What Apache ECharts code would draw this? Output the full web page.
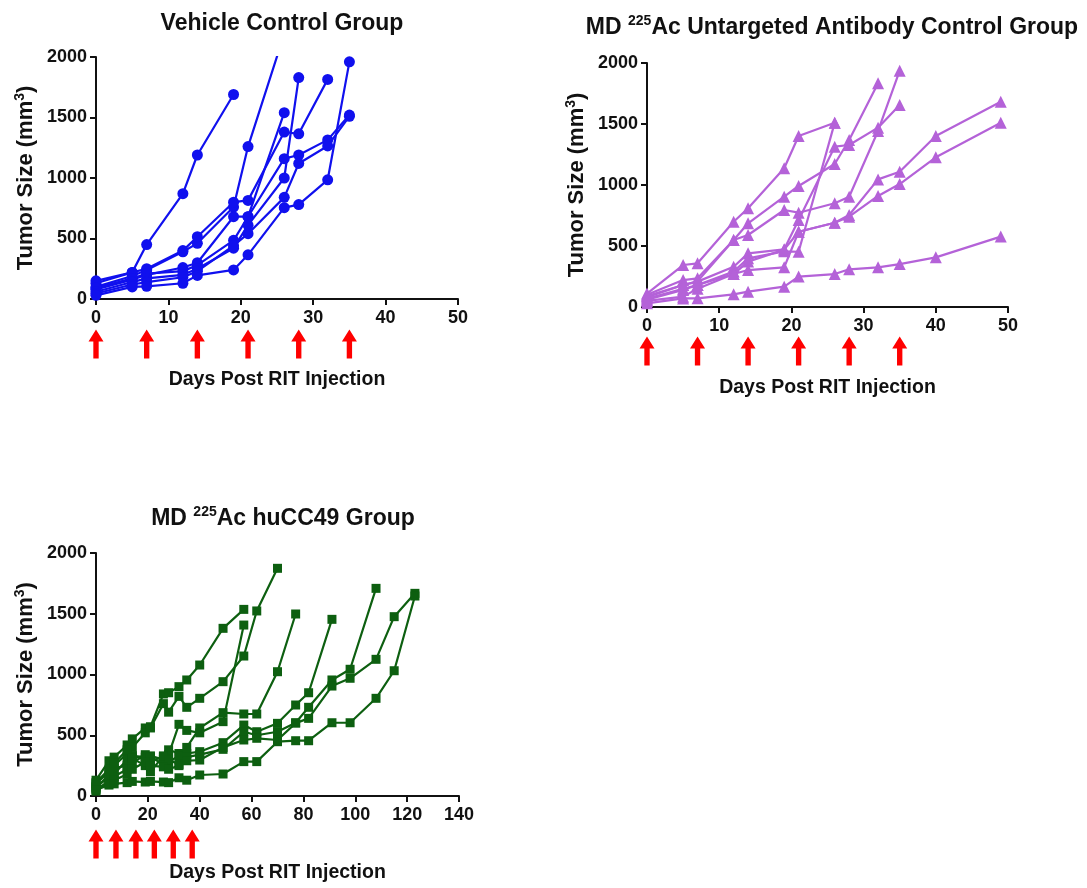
<!DOCTYPE html>
<html>
<head>
<meta charset="utf-8">
<script src="https://cdn.jsdelivr.net/npm/echarts@6/dist/echarts.min.js"></script>
<style>
  html, body { margin: 0; padding: 0; background: #fff; }
  #chart { width: 1087px; height: 888px; }
</style>
</head>
<body>
<div id="chart"></div>
<script>
// tumour size per mouse: [day, mm3]
const vehicleMice = [
  [[0,130],[5,220],[7,450],[12,870],[14,1190],[19,1690]],
  [[0,100],[5,190],[7,240],[12,390],[14,460],[19,760],[21,1260],[26,2190]],
  [[0,150],[5,220],[7,250],[12,400],[14,515],[19,800],[21,815],[26,1380],[28,1365],[32,1815]],
  [[0,80],[5,160],[7,200],[12,260],[14,300],[19,680],[21,680],[26,1540]],
  [[0,90],[5,170],[7,210],[12,230],[14,280],[19,485],[21,680],[26,1160],[28,1190],[32,1315],[35,1520]],
  [[0,60],[5,140],[7,170],[12,200],[14,250],[19,420],[21,610],[26,1000],[28,1830]],
  [[0,45],[5,120],[7,140],[12,180],[14,230],[19,440],[21,540],[26,840],[28,1120],[32,1265],[35,1510]],
  [[0,30],[5,100],[7,105],[12,130],[14,195],[19,240],[21,365],[26,755],[28,780],[32,985],[35,1960]]
];
const untargetedMice = [
  [[0,30],[5,70],[7,71],[12,104],[14,126],[19,167],[21,249],[26,270],[28,309],[32,325],[35,352],[40,407],[49,577]],
  [[0,110],[5,344],[7,358],[12,699],[14,809],[19,1137],[21,1402],[26,1511]],
  [[0,100],[5,221],[7,235],[12,549],[14,686],[19,904],[21,992],[26,1172],[28,1369],[32,1833]],
  [[0,80],[5,180],[7,208],[12,330],[14,440],[19,473],[21,713],[26,1314],[28,1328],[32,1470],[35,1656]],
  [[0,60],[5,139],[7,180],[12,290],[14,399],[19,456],[21,453],[26,1511]],
  [[0,90],[5,180],[7,210],[12,549],[14,590],[19,795],[21,773],[26,850],[28,904],[32,1443],[35,1937]],
  [[0,70],[5,150],[7,180],[12,270],[14,372],[19,470],[21,617],[26,691],[28,754],[32,1046],[35,1109],[40,1402],[49,1683]],
  [[0,50],[5,85],[7,150],[12,270],[14,303],[19,325],[21,617],[26,691],[28,740],[32,910],[35,1008],[40,1227],[49,1511]]
];
const huCC49Mice = [
  [[0,130],[5,290],[7,320],[12,420],[14,470],[19,560],[21,570],[26,840],[28,850],[32,900],[35,955],[40,1078],[49,1380],[57,1536]],
  [[0,100],[5,200],[7,250],[12,350],[14,400],[19,520],[21,560],[26,760],[28,690],[32,820],[35,730],[40,804],[49,941],[57,1152],[62,1523],[70,1874]],
  [[0,80],[5,150],[7,180],[12,300],[14,330],[19,300],[21,330],[26,300],[28,340],[32,590],[35,540],[40,520],[49,612],[57,1407]],
  [[0,60],[5,180],[7,230],[12,250],[14,330],[19,320],[21,290],[26,320],[28,380],[32,350],[35,400],[40,560],[49,686],[57,675],[62,675],[70,1023],[77,1498]],
  [[0,40],[5,130],[7,160],[12,220],[14,270],[19,340],[21,320],[26,260],[28,280],[32,330],[35,350],[40,365],[49,439],[57,584],[62,529],[70,598],[77,749],[82,850],[91,1454]],
  [[0,110],[5,220],[7,270],[12,380],[14,310],[19,250],[21,200],[26,330],[28,300],[32,260],[35,320],[40,340],[49,384],[57,529],[62,500],[70,529],[77,603],[82,730],[91,955],[98,1043],[108,1709]],
  [[0,70],[5,100],[7,130],[12,180],[14,220],[19,280],[21,250],[26,240],[28,220],[32,250],[35,290],[40,296],[49,400],[57,461],[62,475],[70,461],[77,600],[82,639],[91,905],[98,969],[108,1125],[115,1476],[123,1668]],
  [[0,50],[5,90],[7,100],[12,110],[14,120],[19,115],[21,120],[26,115],[28,110],[32,150],[35,130],[40,173],[49,181],[57,283],[62,283],[70,447],[77,455],[82,455],[91,603],[98,603],[108,804],[115,1031],[123,1646]]
];
// red injection arrows under each x axis (days)
const weeklyDoses = [0, 7, 14, 21, 28, 35];
const huCC49Doses = [0, 7.7, 15.4, 22.5, 29.8, 37.1];

const font = 'Liberation Sans, Arial, Helvetica, sans-serif';
const ink = '#111';
const arrowPath = 'path://M7,0 L14,12 L9.5,12 L9.5,29 L4.5,29 L4.5,12 L0,12 Z';

// box: [left, top, width, height] of each plot
const panels = [
  { box: [96, 57, 362, 242], arrowY: 344, xMax: 50, xStep: 10, mice: vehicleMice, color: '#1010ee', symbol: 'circle', size: 11, doses: weeklyDoses, nameGap: 71 },
  { box: [647, 63, 361, 244], arrowY: 351, xMax: 50, xStep: 10, mice: untargetedMice, color: '#b462d8', symbol: 'triangle', size: 12, doses: weeklyDoses, nameGap: 71 },
  { box: [96, 553, 363, 243], arrowY: 844, xMax: 140, xStep: 20, mice: huCC49Mice, color: '#0d5f10', symbol: 'rect', size: 9, doses: huCC49Doses, nameGap: 67 }
];
const titles = [
  { text: '{b|Vehicle Control Group}', x: 277, y: 5 },
  { text: '{b|MD }{s|225}{b|Ac Untargeted Antibody Control Group}', x: 827, y: 9 },
  { text: '{b|MD }{s|225}{b|Ac huCC49 Group}', x: 278, y: 500 }
];

const richTitle = {
  b: { fontSize: 23, fontWeight: 'bold', fontFamily: font, color: ink, lineHeight: 28 },
  s: { fontSize: 14, fontWeight: 'bold', fontFamily: font, color: ink, verticalAlign: 'top', lineHeight: 14 }
};
const richName = {
  a: { fontSize: 22, fontWeight: 'bold', fontFamily: font, color: ink, lineHeight: 26 },
  s: { fontSize: 14, fontWeight: 'bold', fontFamily: font, color: ink, verticalAlign: 'top', lineHeight: 12 }
};

const grid = [], xAxis = [], yAxis = [], series = [];
panels.forEach((p, i) => {
  const [l, t, w, h] = p.box;
  grid.push({ left: l, top: t, width: w, height: h });
  grid.push({ left: l, top: p.arrowY - 10, width: w, height: 20 });
  const axisLine = { show: true, lineStyle: { color: ink, width: 2 } };
  const axisTick = { show: true, length: 6, lineStyle: { width: 2, color: ink } };
  xAxis.push({
    type: 'value', gridIndex: 2 * i, min: 0, max: p.xMax, interval: p.xStep,
    splitLine: { show: false }, axisLine, axisTick,
    axisLabel: { fontSize: 18, fontWeight: 'bold', fontFamily: font, color: ink, margin: 10, formatter: v => String(v) },
    name: 'Days Post RIT Injection', nameLocation: 'middle', nameGap: p.nameGap,
    nameTextStyle: { fontSize: 19.5, fontWeight: 'bold', fontFamily: font, color: ink }
  });
  xAxis.push({ type: 'value', gridIndex: 2 * i + 1, min: 0, max: p.xMax, show: false });
  yAxis.push({
    type: 'value', gridIndex: 2 * i, min: 0, max: 2000, interval: 500,
    splitLine: { show: false }, axisLine, axisTick,
    axisLabel: { fontSize: 18, fontWeight: 'bold', fontFamily: font, color: ink, margin: 9, formatter: v => String(v) },
    name: '{a|Tumor Size (mm}{s|3}{a|)}', nameLocation: 'middle', nameGap: 57, nameRotate: 90,
    nameTextStyle: { rich: richName }
  });
  yAxis.push({ type: 'value', gridIndex: 2 * i + 1, min: -1, max: 1, show: false });

  p.mice.forEach(m => {
    series.push({
      type: 'line', xAxisIndex: 2 * i, yAxisIndex: 2 * i, data: m,
      symbol: p.symbol, symbolSize: p.size, showAllSymbol: true,
      lineStyle: { color: p.color, width: 2.2 }, itemStyle: { color: p.color, opacity: 1 },
      animation: false, silent: true
    });
  });
  series.push({
    type: 'scatter', xAxisIndex: 2 * i + 1, yAxisIndex: 2 * i + 1,
    data: p.doses.map(d => [d, 0]), symbol: arrowPath, symbolSize: [15, 29],
    itemStyle: { color: '#ff0000', opacity: 1 }, animation: false, silent: true
  });
});

const chart = echarts.init(document.getElementById('chart'));
chart.setOption({
  backgroundColor: '#fff',
  animation: false,
  title: titles.map(t => ({
    text: t.text, left: t.x, top: t.y, textAlign: 'center',
    textStyle: { rich: richTitle }
  })),
  grid, xAxis, yAxis, series
});
window.addEventListener('resize', () => chart.resize());
</script>
</body>
</html>
